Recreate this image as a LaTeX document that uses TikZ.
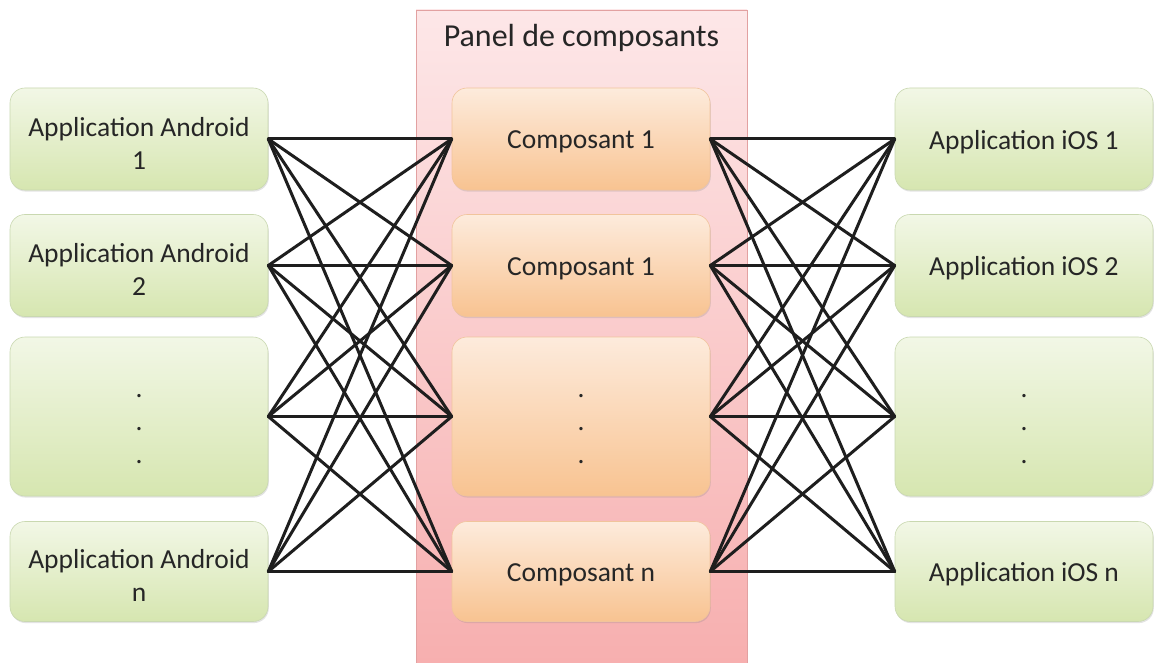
\documentclass[tikz,border=0pt]{standalone}
\usepackage{fontspec}
\setmainfont{Carlito}[Ligatures={Common,Rare}]
\usetikzlibrary{shadows}
\definecolor{txt}{HTML}{262626}
\definecolor{gtop}{HTML}{F2F7E6}
\definecolor{gbot}{HTML}{D6E6B0}
\definecolor{gbrd}{HTML}{C9D8B0}
\definecolor{otop}{HTML}{FDEBDC}
\definecolor{obot}{HTML}{F8C391}
\definecolor{obrd}{HTML}{F1C49C}
\definecolor{ptop}{HTML}{FDE7E8}
\definecolor{pbot}{HTML}{F7AFAF}
\definecolor{pbrd}{HTML}{E2A1A1}
\definecolor{lnk}{HTML}{1E1E1E}
\tikzset{
  appbox/.style={rectangle, rounded corners=15pt, minimum width=258pt, inner sep=0pt,
    top color=gtop, bottom color=gbot, draw=gbrd, line width=0.6pt,
    drop shadow={opacity=0.22, shadow xshift=0.8pt, shadow yshift=-1.6pt}},
  compbox/.style={appbox, top color=otop, bottom color=obot, draw=obrd},
  boxtext/.style={align=center, text=txt, inner sep=0pt, font=\fontsize{27.5}{33}\selectfont},
  link/.style={draw=lnk, line width=3pt, line cap=round},
}
\begin{document}
\begin{tikzpicture}[x=1pt,y=-1pt]
\useasboundingbox (0,0) rectangle (1155,663);
\fill[white] (0,0) rectangle (1155,663);
% panel
\path[top color=ptop, bottom color=pbot, draw=pbrd, line width=0.6pt] (416,10) rectangle (747,663);
\node[text=txt, font=\fontsize{32}{36}\selectfont] (title) at (581.5,38) {Panel de composants};
% left column
\node[appbox, minimum height=102pt] (L1) at (139,139) {};
\node[appbox, minimum height=102pt] (L2) at (139,265.5) {};
\node[appbox, minimum height=159pt] (L3) at (139,416.5) {};
\node[appbox, minimum height=100pt] (L4) at (139,571.5) {};
% middle column
\node[compbox, minimum height=102pt] (M1) at (581,139) {};
\node[compbox, minimum height=102pt] (M2) at (581,265.5) {};
\node[compbox, minimum height=159pt] (M3) at (581,416.5) {};
\node[compbox, minimum height=100pt] (M4) at (581,571.5) {};
% right column
\node[appbox, minimum height=102pt] (R1) at (1024,139) {};
\node[appbox, minimum height=102pt] (R2) at (1024,265.5) {};
\node[appbox, minimum height=159pt] (R3) at (1024,416.5) {};
\node[appbox, minimum height=100pt] (R4) at (1024,571.5) {};
% texts
\node[boxtext] (tL1) at ([yshift=-4pt]L1.center) {Application Android\\1};
\node[boxtext] (tL2) at ([yshift=-4pt]L2.center) {Application Android\\2};
\node[boxtext] (tL3) at ([yshift=-13pt]L3.center) {.\\.\\.};
\node[boxtext] (tL4) at ([yshift=-4pt]L4.center) {Application Android\\n};
\node[boxtext] (tM1) at ([yshift=-3pt]M1.center) {Composant 1};
\node[boxtext] (tM2) at ([yshift=-3pt]M2.center) {Composant 1};
\node[boxtext] (tM3) at ([yshift=-13pt]M3.center) {.\\.\\.};
\node[boxtext] (tM4) at ([yshift=-3pt]M4.center) {Composant n};
\node[boxtext] (tR1) at ([yshift=-3pt]R1.center) {Application iOS 1};
\node[boxtext] (tR2) at ([yshift=-3pt]R2.center) {Application iOS 2};
\node[boxtext] (tR3) at ([yshift=-13pt]R3.center) {.\\.\\.};
\node[boxtext] (tR4) at ([yshift=-3pt]R4.center) {Application iOS n};
% links
\foreach \i in {1,...,4}{
  \foreach \j in {1,...,4}{
    \draw[link] (L\i.east) -- (M\j.west);
    \draw[link] (M\i.east) -- (R\j.west);
  }
}
\end{tikzpicture}
\end{document}
